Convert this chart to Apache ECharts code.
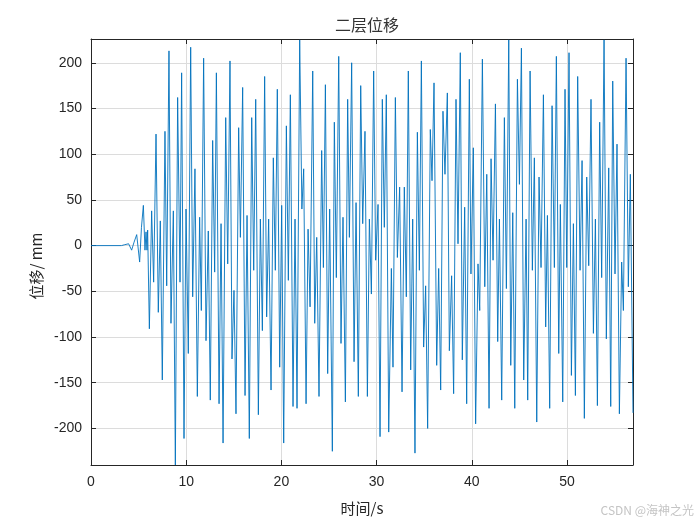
<!DOCTYPE html>
<html>
<head>
<meta charset="utf-8">
<script src="https://cdn.jsdelivr.net/npm/echarts@6/dist/echarts.min.js"></script>
<style>html,body{margin:0;padding:0;background:#fff}#c{width:700px;height:525px}</style>
</head>
<body>
<div id="c"></div>
<script>
const titleText = '二层位移';
const xName = '时间/s';
const yName = '位移/ mm';
const xTicks = [0, 10, 20, 30, 40, 50];
const yTicks = [-200, -150, -100, -50, 0, 50, 100, 150, 200];
const xRange = [0, 56.93];
const yRange = [-240, 226];

const times = [0, 3.2, 3.55, 3.75, 3.95, 4.27, 4.5, 4.8, 5.11, 5.3, 5.5, 5.67, 5.78, 5.88, 5.95, 6.13, 6.37, 6.58, 6.83, 7.07, 7.28, 7.49, 7.77, 7.95, 8.19, 8.4, 8.65, 8.86, 9.1, 9.35, 9.52, 9.77, 9.98, 10.22, 10.47, 10.68, 10.92, 11.17, 11.41, 11.59, 11.83, 12.08, 12.32, 12.53, 12.78, 12.99, 13.17, 13.45, 13.66, 13.87, 14.15, 14.36, 14.6, 14.81, 15.02, 15.23, 15.51, 15.69, 15.93, 16.18, 16.39, 16.63, 16.88, 17.09, 17.3, 17.58, 17.79, 18.0, 18.24, 18.45, 18.66, 18.91, 19.15, 19.36, 19.57, 19.82, 20.03, 20.24, 20.52, 20.73, 20.94, 21.22, 21.43, 21.64, 21.92, 22.15, 22.34, 22.59, 22.8, 23.01, 23.29, 23.5, 23.71, 23.95, 24.23, 24.41, 24.62, 24.86, 25.07, 25.35, 25.56, 25.77, 26.02, 26.26, 26.47, 26.72, 26.96, 27.14, 27.38, 27.63, 27.84, 28.08, 28.33, 28.54, 28.78, 29.03, 29.24, 29.45, 29.69, 29.9, 30.15, 30.36, 30.6, 30.81, 31.02, 31.27, 31.55, 31.72, 31.97, 32.18, 32.42, 32.67, 32.91, 33.12, 33.33, 33.58, 33.79, 34.03, 34.28, 34.49, 34.7, 34.94, 35.15, 35.36, 35.64, 35.82, 36.03, 36.31, 36.52, 36.73, 36.97, 37.18, 37.43, 37.64, 37.88, 38.09, 38.34, 38.55, 38.79, 39.0, 39.25, 39.46, 39.74, 39.91, 40.16, 40.4, 40.65, 40.83, 41.11, 41.36, 41.57, 41.81, 42.02, 42.23, 42.48, 42.72, 42.9, 43.14, 43.42, 43.63, 43.88, 44.09, 44.3, 44.51, 44.79, 45.0, 45.21, 45.45, 45.7, 45.87, 46.12, 46.36, 46.57, 46.82, 47.06, 47.27, 47.52, 47.76, 47.94, 48.18, 48.43, 48.67, 48.88, 49.13, 49.3, 49.55, 49.79, 49.97, 50.21, 50.46, 50.67, 50.88, 51.12, 51.37, 51.58, 51.82, 52.07, 52.28, 52.52, 52.77, 52.98, 53.19, 53.43, 53.64, 53.89, 54.13, 54.38, 54.59, 54.8, 55.04, 55.25, 55.5, 55.74, 55.92, 56.2, 56.44, 56.65, 56.93];

const displacement = [0, 0, 1, -1, 2, -5, 3, 12, -18, 20, 44, -5, 15, -5, 17, -91, 38, -40, 122, -73, 27, -147, 125, -44, 213, -85, 38, -240, 162, -40, 189, -211, 40, -118, 217, -56, 84, -165, 31, -71, 205, -104, 16, -169, 115, -29, 189, -173, 24, -216, 140, -20, 202, -124, -49, -184, 129, 9, 173, -164, 33, -211, 140, -27, 160, -185, 29, -93, 185, -78, 29, -158, 96, -27, 171, -133, 44, -216, 131, -38, 165, -176, 29, -178, 225, 40, 84, -173, 18, -67, 191, -85, 9, -165, 104, -24, 176, -140, 40, -225, 135, -35, 207, -107, 31, -171, 160, 9, 200, -127, 47, -165, 175, 24, 125, -165, 29, -53, 191, -16, 45, -209, 160, 20, 165, -204, -25, -133, 162, -13, 64, -160, 64, -56, 191, -136, 29, -227, 124, -27, 202, -111, -44, -200, 127, 71, 178, -131, -25, -158, 147, 78, 167, -115, -33, -162, 160, 2, 211, -125, 42, -173, 182, -31, 107, -195, -20, -71, 204, -45, 78, -178, 95, -16, 155, -105, 29, -169, 140, -47, 225, -131, 36, -178, 182, 67, 216, -147, 29, -169, 191, -27, 96, -193, 75, -24, 165, -89, 33, -178, 153, -24, 207, -118, 45, -171, 171, -24, 211, -142, 24, -164, 185, -27, 93, -189, 75, -22, 160, -96, 29, -175, 135, -35, 225, -102, 85, -176, 180, -31, 111, -184, -18, -71, 205, -45, 78, -183];

const chart = echarts.init(document.getElementById('c'), null, {renderer: 'canvas'});
const axisColor = '#262626';
const labelFont = 'Liberation Sans, Arial, Helvetica, sans-serif';
const cjkFont = '"Noto Sans CJK SC", "Noto Sans", sans-serif';

const pts = times.map((t, i) => [t, displacement[i]]);

chart.setOption({
  animation: false,
  backgroundColor: '#ffffff',
  title: {
    text: titleText,
    left: 362, top: 12,
    textAlign: 'center',
    textStyle: {fontFamily: cjkFont, fontSize: 16, fontWeight: 'normal', color: '#333333'}
  },
  grid: {left: 91, right: 67, top: 39, bottom: 60, containLabel: false},
  xAxis: [{
    type: 'value', min: xRange[0], max: xRange[1], interval: 10,
    position: 'bottom',
    name: xName, nameLocation: 'middle', nameGap: 36,
    nameTextStyle: {fontFamily: cjkFont, fontSize: 15, color: axisColor},
    axisLine: {show: true, onZero: false, lineStyle: {color: axisColor, width: 1}},
    axisTick: {show: true, inside: true, length: 5, lineStyle: {color: axisColor}, customValues: xTicks},
    axisLabel: {show: true, color: axisColor, fontFamily: labelFont, fontSize: 14, margin: 10, customValues: xTicks},
    splitLine: {show: true, lineStyle: {color: '#dcdcdc', width: 1}}
  }, {
    type: 'value', min: xRange[0], max: xRange[1], interval: 10,
    position: 'top',
    axisLine: {show: true, onZero: false, lineStyle: {color: axisColor, width: 1}},
    axisTick: {show: true, inside: true, length: 5, lineStyle: {color: axisColor}, customValues: xTicks},
    axisLabel: {show: false},
    splitLine: {show: false}
  }],
  yAxis: [{
    type: 'value', min: yRange[0], max: yRange[1], splitNumber: 9,
    position: 'left',
    axisLine: {show: true, onZero: false, lineStyle: {color: axisColor, width: 1}},
    axisTick: {show: true, inside: true, length: 5, lineStyle: {color: axisColor}, customValues: yTicks},
    axisLabel: {show: true, color: axisColor, fontFamily: labelFont, fontSize: 14, margin: 9, customValues: yTicks},
    splitLine: {show: true, lineStyle: {color: '#dcdcdc', width: 1}}
  }, {
    type: 'value', min: yRange[0], max: yRange[1], splitNumber: 9,
    position: 'right',
    axisLine: {show: true, onZero: false, lineStyle: {color: axisColor, width: 1}},
    axisTick: {show: true, inside: true, length: 5, lineStyle: {color: axisColor}, customValues: yTicks},
    axisLabel: {show: false},
    splitLine: {show: false}
  }],
  graphic: [{
    type: 'text',
    x: 36, y: 266,
    rotation: Math.PI / 2,
    style: {text: yName, font: '15px ' + cjkFont, fill: axisColor, textAlign: 'center', textVerticalAlign: 'middle'}
  }, {
    type: 'text',
    right: 6, top: 504,
    style: {text: 'CSDN @海神之光', font: '12px ' + cjkFont, fill: '#c4c4c4'}
  }],
  series: [{
    type: 'line',
    xAxisIndex: 0, yAxisIndex: 0,
    data: pts,
    showSymbol: false,
    symbol: 'none',
    lineStyle: {color: '#0072BD', width: 0.9},
    silent: true
  }]
});
</script>
</body>
</html>
